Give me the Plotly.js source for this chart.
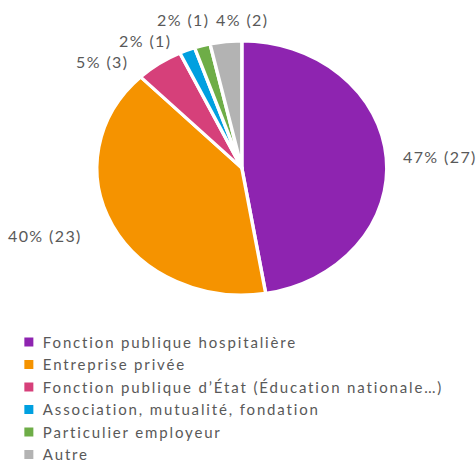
<!DOCTYPE html>
<html><head><meta charset="utf-8">
<script src="https://cdn.plot.ly/plotly-3.0.1.min.js"></script>
<style>
html,body{margin:0;padding:0;background:#fff}
.legendtext{letter-spacing:1.85px}
.annotation-text{letter-spacing:1.4px}
.legend .legendpoints{transform:translate(6px,0)}
</style>
</head><body><div id="chart" style="width:476px;height:466px"></div>
<script>
const categories = ["Fonction publique hospitalière","Entreprise privée","Fonction publique d’État (Éducation nationale…)","Association, mutualité, fondation","Particulier employeur","Autre"];
const counts = [27, 23, 3, 1, 1, 2];
const colors = ["#8E24B0","#F59300","#D6407A","#00A0E0","#6EAD47","#B3B3B3"];
// label nudges in pixels from the slice's outer edge (layout only)
const labelNudge = [[15, -1], [-28, 10], [-29, -2], [-14, -10], [9, -26], [44, -22]];

const W = 476, H = 466, stretchX = 145/127;
const trace = {
  type: 'pie', labels: categories, values: counts, sort: false,
  direction: 'clockwise', rotation: 0,
  marker: {colors: colors, line: {color: '#ffffff', width: 3}},
  textinfo: 'none', hoverinfo: 'none',
  domain: {x: [0.016, 1.0], y: [0.367, 0.912]}
};
const labelFont = {family: 'Lato, sans-serif', size: 16, color: '#595959'};
const layout = {
  width: W, height: H, margin: {l: 0, r: 0, t: 0, b: 0, autoexpand: false},
  paper_bgcolor: '#fff', showlegend: true,
  legend: {x: 0.006, y: 0.301, xanchor: 'left', yanchor: 'top', font: {family: 'Lato, sans-serif', size: 15, color: '#595959'}}
};
function stretch(cx, cy){
  document.querySelectorAll('.pielayer g.slice path.surface').forEach(function(p){
    p.setAttribute('transform', 'translate(' + cx + ',' + cy + ') scale(' + stretchX + ',1) translate(' + (-cx) + ',' + (-cy) + ')');
  });
}
Plotly.newPlot('chart', [trace], layout, {staticPlot: true}).then(function(gd){
  const cd0 = gd.calcdata[0][0];
  const cx = cd0.cx, cy = cd0.cy, r = cd0.r;
  const total = counts.reduce((a, b) => a + b, 0);
  let cum = 0;
  const anns = counts.map(function(v, i){
    const mid = (cum + v / 2) / total * 2 * Math.PI; cum += v;
    const px = cx + r * stretchX * Math.sin(mid) + labelNudge[i][0];
    const py = cy - r * Math.cos(mid) + labelNudge[i][1];
    const pct = Math.round(v / total * 100);
    return {text: pct + '% (' + v + ')', x: px / W, y: 1 - py / H, xref: 'paper', yref: 'paper',
      xanchor: Math.sin(mid) > 0 ? 'left' : 'right', yanchor: 'middle', showarrow: false, font: labelFont};
  });
  return Plotly.relayout(gd, {annotations: anns}).then(function(){ stretch(cx, cy); });
});
</script></body></html>
